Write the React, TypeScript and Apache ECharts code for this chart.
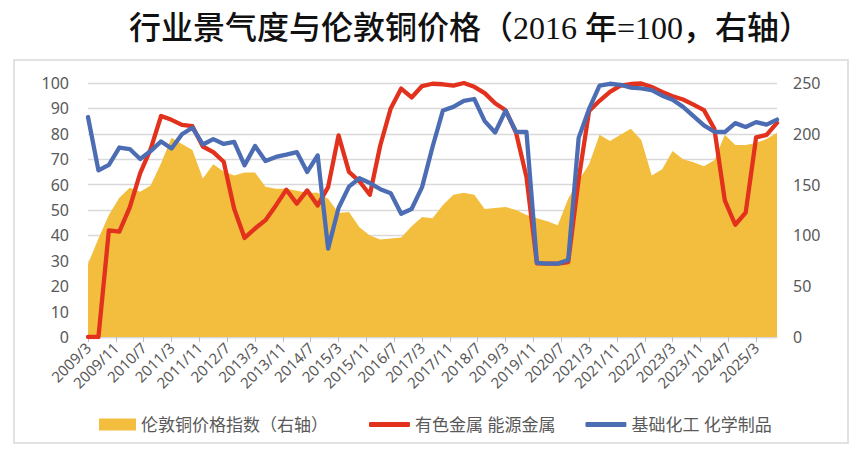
import React, { useEffect, useRef } from "react";
import * as echarts from "echarts";

// quarterly observations, 2009/3 .. 2025/9
const dates = [
  "2009/3", "2009/6", "2009/9", "2009/12",
  "2010/3", "2010/6", "2010/9", "2010/12",
  "2011/3", "2011/6", "2011/9", "2011/12",
  "2012/3", "2012/6", "2012/9", "2012/12",
  "2013/3", "2013/6", "2013/9", "2013/12",
  "2014/3", "2014/6", "2014/9", "2014/12",
  "2015/3", "2015/6", "2015/9", "2015/12",
  "2016/3", "2016/6", "2016/9", "2016/12",
  "2017/3", "2017/6", "2017/9", "2017/12",
  "2018/3", "2018/6", "2018/9", "2018/12",
  "2019/3", "2019/6", "2019/9", "2019/12",
  "2020/3", "2020/6", "2020/9", "2020/12",
  "2021/3", "2021/6", "2021/9", "2021/12",
  "2022/3", "2022/6", "2022/9", "2022/12",
  "2023/3", "2023/6", "2023/9", "2023/12",
  "2024/3", "2024/6", "2024/9", "2024/12",
  "2025/3", "2025/6", "2025/9",
];

// 伦敦铜价格指数 (right axis, 2016 = 100)
const copperIndex = [
  72, 97, 120, 137,
  147, 143, 149, 171,
  196, 190, 184, 156,
  170, 163, 159, 162,
  162, 148, 146, 146,
  144, 142, 142, 136,
  122, 123, 108, 100,
  96, 97, 98, 109,
  118, 117, 130, 140,
  142, 140, 126, 127,
  128, 125, 120, 117,
  114, 110, 136, 154,
  170, 199, 193, 199,
  205, 194, 159, 165,
  183, 175, 172, 168,
  174, 199, 189, 189,
  191, 195, 201,
];

// 有色金属 能源金属
const nonferrous = [
  0, 0, 42, 41.5,
  51, 64.5, 74, 87,
  85.5, 83.5, 83, 75,
  72.8, 69, 50.5, 39,
  42.7, 46, 51.8, 58,
  52.5, 57.7, 51.8, 59,
  79.4, 65, 61.3, 56,
  75.5, 90, 97.8, 94.3,
  98.8, 99.7, 99.5, 99,
  100, 98.5, 96, 92,
  89.3, 80.5, 63, 29,
  28.9, 28.9, 29.5, 62,
  89, 93, 96.5, 99,
  99.6, 99.8, 98.4, 96.5,
  94.8, 93.5, 91.5, 89.3,
  82, 53.8, 44.2, 49,
  78.6, 79.6, 84.3,
];

// 基础化工 化学制品
const chemicals = [
  86.6, 65.6, 67.8, 74.6,
  74, 70.1, 73.2, 77,
  74.2, 79.8, 82.4, 75.8,
  77.9, 76, 76.8, 67.6,
  75.2, 69.3, 70.9, 71.8,
  72.8, 65, 71.5, 34.8,
  50.8, 59.2, 62.5, 60.6,
  58.2, 56.6, 48.5, 50.4,
  59, 74.8, 89.2, 90.6,
  93, 93.7, 85, 80.5,
  89.1, 80.8, 80.7, 29.2,
  28.9, 28.9, 30.3, 78.4,
  89.8, 99, 99.7, 99.3,
  98.2, 97.9, 97.2, 95,
  93.4, 90.6, 87, 83.3,
  80.8, 80.7, 84.2, 82.7,
  84.6, 83.6, 85.6,
];

const xTickLabels = [
  "2009/3", "2009/11", "2010/7", "2011/3", "2011/11", "2012/7", "2013/3",
  "2013/11", "2014/7", "2015/3", "2015/11", "2016/7", "2017/3", "2017/11",
  "2018/7", "2019/3", "2019/11", "2020/7", "2021/3", "2021/11", "2022/7",
  "2023/3", "2023/11", "2024/7", "2025/3",
];

const seriesNames = ["伦敦铜价格指数（右轴）", "有色金属 能源金属", "基础化工 化学制品"];

// months elapsed since 2009/3
const toMonth = (s: string) => {
  const [y, m] = s.split("/").map(Number);
  return (y - 2009) * 12 + (m - 3);
};

const pairs = (vals: number[]) => vals.map((v, i) => [toMonth(dates[i]), v]);

const App: React.FC = () => {
  const chartRef = useRef<HTMLDivElement>(null);

  useEffect(() => {
    if (!chartRef.current) return;
    const chart = echarts.init(chartRef.current, null, { renderer: "svg" });

    const tickMonths = xTickLabels.map(toMonth);
    const labelFont = "'Noto Sans', 'Noto Sans CJK SC', sans-serif";

    chart.setOption({
      animation: false,
      backgroundColor: "#fff",
      textStyle: { fontFamily: labelFont },
      title: {
        text: "行业景气度与伦敦铜价格（2016 年=100，右轴）",
        left: 124,
        top: 7,
        textStyle: {
          fontFamily: "'Liberation Serif', 'Noto Sans CJK SC', serif",
          fontSize: 32,
          fontWeight: 500,
          color: "#111",
        },
      },
      graphic: [
        {
          type: "rect",
          shape: { x: 14, y: 60, width: 834, height: 383 },
          style: { fill: "none", stroke: "#d9d9d9", lineWidth: 1.5 },
          silent: true,
        },
      ],
      grid: {
        left: 88,
        right: 83,
        top: 83,
        bottom: 117,
        outerBoundsMode: "none",
      },
      legend: [
        {
          data: [{ name: seriesNames[0], icon: "rect" }],
          left: 94,
          top: 411,
          itemWidth: 37,
          itemHeight: 12,
          textStyle: { fontSize: 17, color: "#595959", fontFamily: labelFont },
        },
        {
          data: [
            { name: seriesNames[1], icon: "roundRect" },
            { name: seriesNames[2], icon: "roundRect" },
          ],
          left: 364,
          top: 411,
          itemWidth: 41,
          itemHeight: 5,
          itemGap: 30,
          textStyle: { fontSize: 17, color: "#595959", fontFamily: labelFont },
        },
      ],
      xAxis: {
        type: "value",
        min: 0,
        max: toMonth(dates[dates.length - 1]),
        splitLine: { show: false },
        axisLine: { show: true, lineStyle: { color: "#d9d9d9", width: 1.3 } },
        axisTick: {
          show: true,
          customValues: tickMonths,
          length: 5,
          lineStyle: { color: "#bfbfbf" },
        },
        axisLabel: {
          customValues: tickMonths,
          rotate: 45,
          margin: 8,
          fontSize: 15,
          color: "#595959",
          formatter: (v: number) => {
            const idx = tickMonths.indexOf(v);
            return idx >= 0 ? xTickLabels[idx] : "";
          },
        },
      },
      yAxis: [
        {
          type: "value",
          min: 0,
          max: 100,
          interval: 10,
          axisLine: { show: false },
          axisTick: { show: false },
          axisLabel: { fontSize: 16, color: "#595959", margin: 19 },
          splitLine: { lineStyle: { color: "#d9d9d9", width: 1.3 } },
        },
        {
          type: "value",
          min: 0,
          max: 250,
          interval: 50,
          axisLine: { show: false },
          axisTick: { show: false },
          axisLabel: { fontSize: 16, color: "#595959", margin: 16 },
          splitLine: { show: false },
        },
      ],
      series: [
        {
          name: seriesNames[0],
          type: "line",
          yAxisIndex: 1,
          data: pairs(copperIndex),
          showSymbol: false,
          lineStyle: { width: 0 },
          itemStyle: { color: "#F3BE3D" },
          areaStyle: { color: "#F3BE3D", opacity: 1 },
          z: 1,
        },
        {
          name: seriesNames[1],
          type: "line",
          yAxisIndex: 0,
          data: pairs(nonferrous),
          showSymbol: false,
          itemStyle: { color: "#E2311D" },
          lineStyle: { width: 4.3, color: "#E2311D", cap: "round", join: "round" },
          z: 2,
        },
        {
          name: seriesNames[2],
          type: "line",
          yAxisIndex: 0,
          data: pairs(chemicals),
          showSymbol: false,
          itemStyle: { color: "#4C6DB3" },
          lineStyle: { width: 4.3, color: "#4C6DB3", cap: "round", join: "round" },
          z: 3,
        },
      ],
    });

    return () => chart.dispose();
  }, []);

  return (
    <div
      ref={chartRef}
      style={{ position: "absolute", left: 0, top: 0, width: "860px", height: "454px" }}
    />
  );
};

export default App;
